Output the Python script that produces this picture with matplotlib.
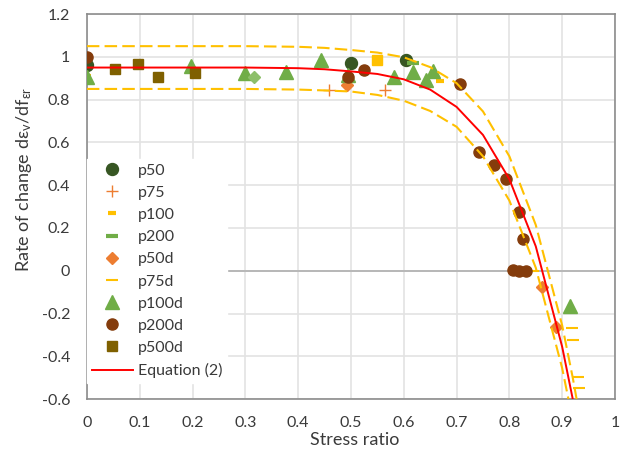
import numpy as np
import matplotlib
matplotlib.use('Agg')
import matplotlib.pyplot as plt

plt.rcParams['font.family'] = ['Lato', 'DejaVu Sans']
plt.rcParams['mathtext.fontset'] = 'custom'
plt.rcParams['mathtext.rm'] = 'Lato'

# points
p50_x = [0.0, 0.50, 0.604]
p50_y = [0.96, 0.97, 0.985]
p75_x = [0.459, 0.564]
p75_y = [0.845, 0.845]
p100_x = [0.0, 0.669]
p100_y = [0.91, 0.887]
p200_x = [0.617]
p200_y = [0.97]
p50d_x = [0.493, 0.862, 0.889]
p50d_y = [0.868, -0.075, -0.265]
p75d_x = [0.845, 0.918, 0.921, 0.929, 0.932]
p75d_y = [0.0, -0.269, -0.324, -0.495, -0.55]
p100d_x = [0.0, 0.198, 0.299, 0.377, 0.443, 0.494, 0.581, 0.617, 0.642, 0.656, 0.915]
p100d_y = [0.904, 0.955, 0.923, 0.93, 0.985, 0.915, 0.904, 0.93, 0.89, 0.935, -0.165]
p200d_x = [0.0, 0.495, 0.525, 0.706, 0.743, 0.771, 0.794, 0.819, 0.826, 0.806, 0.818, 0.831]
p200d_y = [1.0, 0.904, 0.938, 0.873, 0.553, 0.494, 0.427, 0.273, 0.148, 0.005, 0.0, 0.0]
p500d_x = [0.054, 0.097, 0.135, 0.205]
p500d_y = [0.943, 0.966, 0.904, 0.926]
# points isoles (couleur differente)
sq_x, sq_y = [0.55], [0.985]
dia_x, dia_y = [0.316], [0.904]

# equation (2) et bandes
eq_x = [0, 0.1, 0.2, 0.3, 0.4, 0.45, 0.5, 0.55, 0.6, 0.65, 0.7, 0.75, 0.8, 0.85, 0.9, 0.92]
eq_y = [0.95, 0.95, 0.95, 0.95, 0.947, 0.942, 0.932, 0.92, 0.895, 0.847, 0.766, 0.635, 0.428, 0.114, -0.356, -0.60]
up_x = [0, 0.1, 0.2, 0.3, 0.4, 0.45, 0.5, 0.55, 0.6, 0.65, 0.7, 0.75, 0.8, 0.85, 0.9, 0.92, 0.93]
up_y = [1.05, 1.05, 1.05, 1.05, 1.047, 1.042, 1.032, 1.02, 0.998, 0.952, 0.877, 0.745, 0.535, 0.214, -0.256, -0.5, -0.637]
lo_x = [0, 0.1, 0.2, 0.3, 0.4, 0.45, 0.5, 0.55, 0.6, 0.65, 0.7, 0.75, 0.8, 0.85, 0.9, 0.92]
lo_y = [0.85, 0.85, 0.85, 0.85, 0.847, 0.843, 0.838, 0.822, 0.795, 0.747, 0.673, 0.535, 0.328, 0.014, -0.456, -0.70]

fig = plt.figure(figsize=(6.25, 4.54), dpi=100)
ax = fig.add_axes([0.139, 0.121, 0.845, 0.848])

ax.plot(p50_x, p50_y, 'o', color='#375623', ms=8.6, label='p50', zorder=3)
ax.plot(p75_x, p75_y, '+', color='#ED7D31', ms=9, mew=1.0, label='p75', zorder=3)
ax.plot(p100_x, p100_y, '_', color='#FFC000', ms=6, mew=3, label='p100', zorder=3)
ax.plot(p200_x, p200_y, '_', color='#70AD47', ms=8, mew=3, label='p200', zorder=3)
ax.plot(p50d_x, p50d_y, 'D', color='#ED7D31', ms=6.5, label='p50d', zorder=3)
ax.plot(p75d_x, p75d_y, '_', color='#FFC000', ms=9, mew=1.5, label='p75d', zorder=3)
ax.plot(p100d_x, p100d_y, '^', color='#70AD47', ms=9.5, label='p100d', zorder=3)
ax.plot(p200d_x, p200d_y, 'o', color='#843C0C', ms=8, label='p200d', zorder=3)
ax.plot(p500d_x, p500d_y, 's', color='#7F6000', ms=7.5, label='p500d', zorder=3)
ax.plot(sq_x, sq_y, 's', color='#FFC000', ms=7.5, zorder=3)
ax.plot(dia_x, dia_y, 'D', color='#8DBF6A', ms=6, zorder=3)

ax.plot(up_x, up_y, color='#FFC000', lw=1.5, dashes=(6, 2.5), zorder=4)
ax.plot(lo_x, lo_y, color='#FFC000', lw=1.5, dashes=(6, 2.5), zorder=4)
ax.plot(eq_x, eq_y, color='#FF0000', lw=1.4, label='Equation (2)', zorder=5)

ax.set_xlim(0, 1)
ax.set_ylim(-0.6, 1.2)
ax.set_xticks(np.arange(0, 1.01, 0.1))
ax.set_yticks(np.arange(-0.6, 1.21, 0.2))
ax.set_xticklabels(['0', '0.1', '0.2', '0.3', '0.4', '0.5', '0.6', '0.7', '0.8', '0.9', '1'])
ax.set_yticklabels(['-0.6', '-0.4', '-0.2', '0', '0.2', '0.4', '0.6', '0.8', '1', '1.2'])
ax.tick_params(length=0, pad=12, labelsize=11.5, colors='#3a3a3a')
ax.grid(True, color='#e3e3e3', lw=1.2)
ax.set_axisbelow(True)
ax.axhline(0, color='#b4b4b4', lw=1.3, zorder=1)
for s in ax.spines.values():
    s.set_color('#8c8c8c')
    s.set_linewidth(1.2)

ax.set_xlabel('Stress ratio', fontsize=13, color='#3a3a3a')
ax.set_ylabel(r'Rate of change d$\mathregular{\varepsilon_v}$/df$\mathregular{_{\varepsilon r}}$', fontsize=13, color='#3a3a3a')
ax.yaxis.set_label_coords(-0.10, 0.57)
ax.xaxis.set_label_coords(0.508, -0.085)

leg = ax.legend(loc='lower left', bbox_to_anchor=(0.0, 0.042), borderaxespad=0,
                frameon=True, fancybox=False, framealpha=1, edgecolor='white',
                fontsize=11.5, labelspacing=0.5, handlelength=2.6, handletextpad=0.3,
                borderpad=0.3)
for t in leg.get_texts():
    t.set_color('#3a3a3a')

fig.savefig('out.png', dpi=100)
